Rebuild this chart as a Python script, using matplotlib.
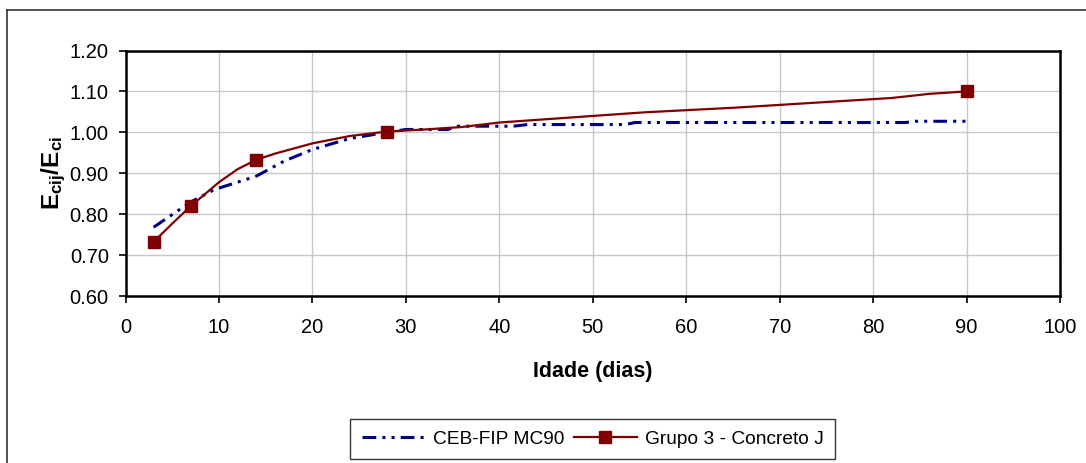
import matplotlib
matplotlib.use("Agg")
import matplotlib.pyplot as plt
from matplotlib.lines import Line2D

plt.rcParams['font.family'] = ['Liberation Sans', 'DejaVu Sans']
plt.rcParams['mathtext.fontset'] = 'custom'
plt.rcParams['mathtext.rm'] = 'Liberation Sans'
plt.rcParams['mathtext.bf'] = 'Liberation Sans:bold'

# CEB-FIP MC90 reference curve (age in days, Ecij/Eci)
ceb_age = [3, 7, 9.5, 14, 17, 20, 24, 28, 30, 34.5, 35.5, 41.5, 43, 53.5, 54.5, 83.5, 84.5, 90]
ceb_val = [0.768, 0.830, 0.860, 0.893, 0.930, 0.958, 0.985, 1.000, 1.007, 1.007,
           1.015, 1.015, 1.019, 1.019, 1.024, 1.024, 1.027, 1.027]

# Grupo 3 - Concreto J: curve and test ages
grp_age = [3, 5, 7, 10, 12, 14, 16, 20, 24, 28, 32, 36, 40, 55.6, 65, 82, 86, 90]
grp_val = [0.732, 0.777, 0.820, 0.878, 0.910, 0.933, 0.948, 0.973, 0.991, 1.002,
           1.007, 1.013, 1.024, 1.049, 1.060, 1.084, 1.094, 1.100]
test_ages = [3, 7, 14, 28, 90]

xticks = list(range(0, 101, 10))
yticks = [0.60, 0.70, 0.80, 0.90, 1.00, 1.10, 1.20]

navy = '#000080'
maroon = '#800000'

fig = plt.figure(figsize=(10.86, 4.63), dpi=100)
ax = fig.add_axes([125.5 / 1086, 1 - 296 / 463, (1060 - 125.5) / 1086, (296 - 50.5) / 463])

ax.plot(ceb_age, ceb_val, color=navy, lw=2.2, dashes=(4.5, 2, 1, 2, 1, 2),
        dash_capstyle='butt', label='CEB-FIP MC90', zorder=3)
marker_idx = [grp_age.index(a) for a in test_ages]
ax.plot(grp_age, grp_val, color=maroon, lw=1.6, marker='s', markersize=8.5,
        markevery=marker_idx, markerfacecolor=maroon, markeredgecolor=maroon,
        label='Grupo 3 - Concreto J', zorder=4)

ax.set_xlim(0, 100)
ax.set_ylim(0.60, 1.20)
ax.set_xticks(xticks)
ax.set_yticks(yticks)
ax.set_yticklabels([f'{v:.2f}' for v in yticks])
ax.tick_params(axis='both', labelsize=14.5, direction='out', length=5, width=1.2,
               colors='black')
ax.tick_params(axis='x', pad=11)
ax.tick_params(axis='y', pad=7)
ax.grid(True, color='#c8c8c8', lw=1.0)
ax.set_axisbelow(True)
for s in ax.spines.values():
    s.set_color('black')
    s.set_linewidth(1.8)

ax.set_xlabel('Idade (dias)', fontsize=15.5, fontweight='bold', labelpad=17)
ax.set_ylabel(r'$\mathbf{E_{cij}/E_{ci}}$', fontsize=17.5, labelpad=1)

leg = ax.legend(loc='upper center', bbox_to_anchor=(0.5, -0.5), ncol=2, frameon=True,
                fancybox=False, fontsize=13.8, handlelength=3.3, columnspacing=0.5,
                handletextpad=0.4, borderpad=0.6, borderaxespad=0)
leg.get_frame().set_edgecolor('black')
leg.get_frame().set_linewidth(1.0)

# chart area border (top and left edges)
fig.add_artist(Line2D([7 / 1086, 1.0], [1 - 10 / 463, 1 - 10 / 463], color='#333333', lw=1.2))
fig.add_artist(Line2D([7 / 1086, 7 / 1086], [0.0, 1 - 10 / 463], color='#333333', lw=1.2))

fig.savefig('out.png', dpi=100, facecolor='white')
